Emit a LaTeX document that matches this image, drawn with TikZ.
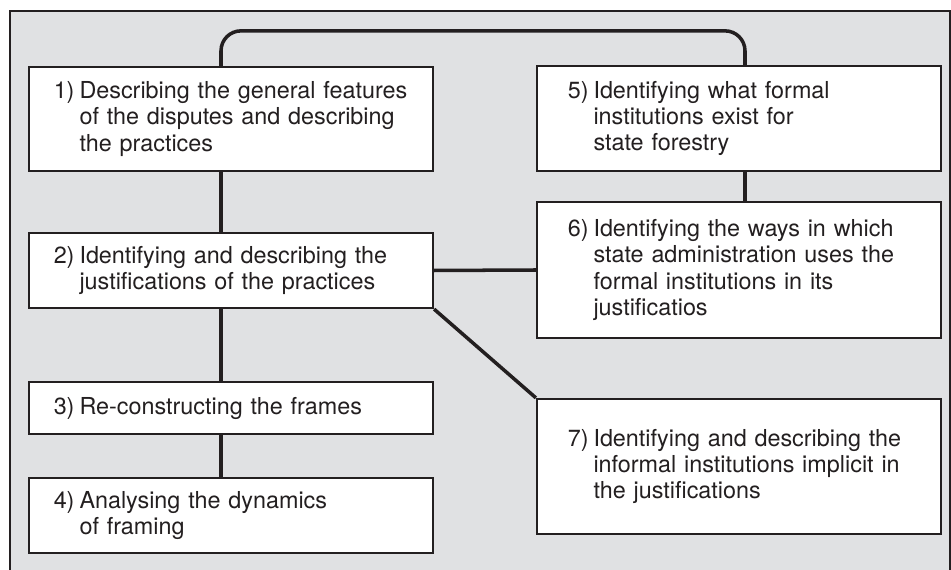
\documentclass[tikz,border=0pt]{standalone}
\usepackage{fontspec}
\setmainfont{TeX Gyre Heros}
\definecolor{panelgrey}{RGB}{224,225,227}
\definecolor{ink}{RGB}{35,31,32}
\newlength{\nrwidth}
\setlength{\nrwidth}{0.45cm}
\newcommand{\firstline}[2]{\makebox[\nrwidth][r]{#1\hspace{0.1cm}}\mbox{#2}}
\newcommand{\moreline}[1]{\\\hspace*{\nrwidth}\mbox{#1}}

\begin{document}
\begin{tikzpicture}[x=0.02cm, y=-0.02cm,
  box/.style={draw=ink, line width=1.3pt, fill=white, text=ink, align=left,
    font=\fontsize{13.3}{14.9}\selectfont, inner ysep=0pt, minimum width=8.08cm},
  leftbox/.style={box, inner xsep=0.56cm, text width=6.96cm},
  rightbox/.style={box, inner xsep=0.68cm, text width=6.72cm},
  link/.style={draw=ink, line width=2pt}]
  \useasboundingbox (0,0) rectangle (951,570);

  % Background panel, open at the bottom
  \fill[panelgrey] (10,11) rectangle (951,570);
  \draw[ink, line width=1.3pt] (10,570) -- (10,11) -- (950,11) -- (950,570);

  % Left column
  \node[leftbox, minimum height=2.08cm] (b1) at (231,119)
    {\firstline{1)}{Describing the general features}\moreline{of the disputes and describing}\moreline{the practices}};
  \node[leftbox, minimum height=1.5cm] (b2) at (231,270.5)
    {\firstline{2)}{Identifying and describing the}\moreline{justifications of the practices}};
  \node[leftbox, minimum height=1.04cm] (b3) at (231,408)
    {\firstline{3)}{Re-constructing the frames}};
  \node[leftbox, minimum height=1.5cm] (b4) at (231,515.5)
    {\firstline{4)}{Analysing the dynamics}\moreline{of framing}};

  % Right column
  \node[rightbox, minimum height=2.1cm] (b5) at (739,118.5)
    {\firstline{5)}{Identifying what formal}\moreline{institutions exist for}\moreline{state forestry}};
  \node[rightbox, minimum height=2.72cm] (b6) at (739,270)
    {\firstline{6)}{Identifying the ways in which}\moreline{state administration uses the}\moreline{formal institutions in its}\moreline{justificatios}};
  \node[rightbox, minimum height=2.7cm] (b7) at (739,466.5)
    {\firstline{7)}{Identifying and describing the}\moreline{informal institutions implicit in}\moreline{the justifications}};

  % Connectors
  \draw[link, rounded corners=0.4cm] ([xshift=-0.2cm]b1.north) -- ++(0,-35) -| ([xshift=0.12cm]b5.north);
  \draw[link] ([xshift=-0.2cm]b1.south) -- ([xshift=-0.2cm]b2.north);
  \draw[link] ([xshift=-0.2cm]b2.south) -- ([xshift=-0.2cm]b3.north);
  \draw[link] ([xshift=-0.2cm]b3.south) -- ([xshift=-0.2cm]b4.north);
  \draw[link] ([xshift=0.12cm]b5.south) -- ([xshift=0.12cm]b6.north);
  \draw[link] (b2.east) -- (b6.west);
  \draw[link] (b2.south east) -- (b7.north west);

\end{tikzpicture}
\end{document}
